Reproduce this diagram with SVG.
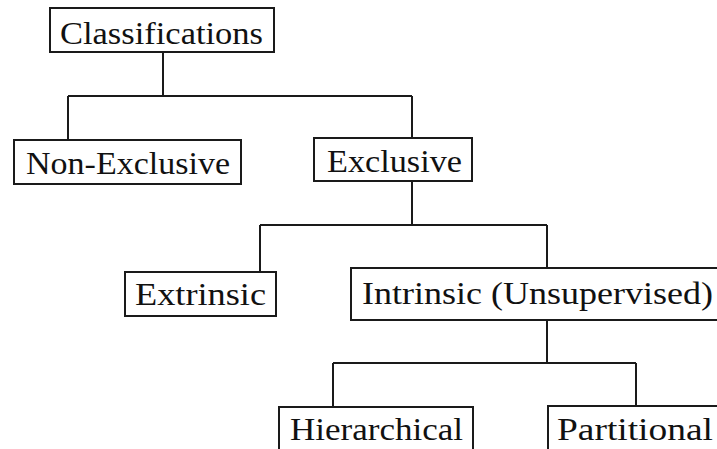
<svg xmlns="http://www.w3.org/2000/svg" width="717" height="449" viewBox="0 0 717 449">
<style>
.box{fill:#fff;stroke:#1a1a1a;stroke-width:2}
.lbl{font-family:"Liberation Serif","Times New Roman",serif;font-size:31px;fill:#111}
.con{fill:none;stroke:#1a1a1a;stroke-width:2}
</style>
<rect width="717" height="449" fill="#fff"/>
<g id="connectors">
<path class="con" d="M163 52 V96 M68 96 H412 M68 96 V140 M412 96 V138"/>
<path class="con" d="M412 181 V225 M260 225 H547 M260 225 V272 M547 225 V268"/>
<path class="con" d="M547 320 V363 M333 363 H636 M333 363 V407 M636 363 V406"/>
</g>
<g id="classifications">
<rect class="box" x="50" y="8" width="224" height="44"/>
<text class="lbl" x="60" y="44" textLength="203" lengthAdjust="spacingAndGlyphs">Classifications</text>
</g>
<g id="non-exclusive">
<rect class="box" x="14" y="140" width="227" height="44"/>
<text class="lbl" x="26" y="174" textLength="204" lengthAdjust="spacingAndGlyphs">Non-Exclusive</text>
</g>
<g id="exclusive">
<rect class="box" x="314" y="138" width="158" height="43"/>
<text class="lbl" x="327" y="172" textLength="135" lengthAdjust="spacingAndGlyphs">Exclusive</text>
</g>
<g id="extrinsic">
<rect class="box" x="125" y="272" width="151" height="44"/>
<text class="lbl" x="135" y="305" textLength="131" lengthAdjust="spacingAndGlyphs">Extrinsic</text>
</g>
<g id="intrinsic">
<rect class="box" x="351" y="268" width="370" height="52"/>
<text class="lbl" x="362" y="304" textLength="351" lengthAdjust="spacingAndGlyphs">Intrinsic (Unsupervised)</text>
</g>
<g id="hierarchical">
<rect class="box" x="279" y="407" width="194" height="50"/>
<text class="lbl" x="290" y="440" textLength="173" lengthAdjust="spacingAndGlyphs">Hierarchical</text>
</g>
<g id="partitional">
<rect class="box" x="548" y="406" width="175" height="50"/>
<text class="lbl" x="557" y="440" textLength="156" lengthAdjust="spacingAndGlyphs">Partitional</text>
</g>
</svg>
